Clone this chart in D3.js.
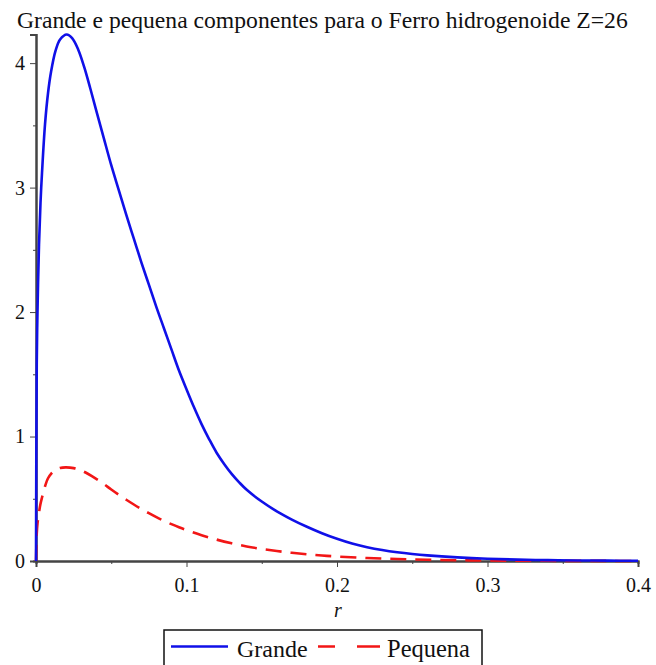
<!DOCTYPE html>
<html>
<head>
<meta charset="utf-8">
<script src="https://cdn.jsdelivr.net/npm/d3@7"></script>
<style>
  html, body { margin: 0; padding: 0; background: #fff; }
  svg { display: block; }
</style>
</head>
<body>
<svg id="chart" width="656" height="665"></svg>
<script>
// Radial coordinate samples and the two Dirac components for Fe (Z=26)
const rGrande = [0, 0.0005, 0.001, 0.002, 0.003, 0.004, 0.006, 0.008, 0.010, 0.013, 0.016, 0.0204,
  0.024, 0.028, 0.032, 0.036, 0.040, 0.045, 0.050, 0.055, 0.060, 0.065, 0.070, 0.075, 0.080,
  0.085, 0.090, 0.095, 0.100, 0.105, 0.110, 0.115, 0.120, 0.125, 0.130, 0.135, 0.140, 0.150,
  0.160, 0.170, 0.180, 0.190, 0.200, 0.210, 0.220, 0.230, 0.240, 0.250, 0.260, 0.280, 0.300,
  0.320, 0.340, 0.360, 0.380, 0.400];
const grande = [0, 1.58, 2.01, 2.54, 2.88, 3.12, 3.51, 3.76, 3.93, 4.10, 4.19, 4.23,
  4.20, 4.11, 3.97, 3.80, 3.62, 3.40, 3.18, 2.98, 2.78, 2.59, 2.40, 2.22, 2.04,
  1.87, 1.70, 1.53, 1.38, 1.235, 1.10, 0.98, 0.87, 0.78, 0.70, 0.632, 0.572, 0.478,
  0.399, 0.333, 0.275, 0.223, 0.178, 0.140, 0.111, 0.088, 0.070, 0.056, 0.045, 0.029, 0.018,
  0.011, 0.007, 0.0045, 0.003, 0.002];

const rPequena = [0, 0.0005, 0.001, 0.002, 0.003, 0.004, 0.006, 0.008, 0.010, 0.013, 0.016, 0.020,
  0.025, 0.030, 0.035, 0.040, 0.045, 0.050, 0.055, 0.060, 0.065, 0.070, 0.075, 0.080,
  0.085, 0.090, 0.095, 0.100, 0.110, 0.120, 0.130, 0.140, 0.150, 0.160, 0.170, 0.180, 0.190,
  0.200, 0.220, 0.240, 0.260, 0.280, 0.300, 0.320, 0.340, 0.360, 0.380, 0.400];
const pequena = [0, 0.22, 0.30, 0.39, 0.46, 0.51, 0.60, 0.665, 0.70, 0.73, 0.748, 0.752,
  0.746, 0.727, 0.697, 0.660, 0.619, 0.574, 0.532, 0.492, 0.454, 0.418, 0.384, 0.352,
  0.323, 0.296, 0.271, 0.248, 0.207, 0.172, 0.142, 0.117, 0.097, 0.080, 0.066, 0.054, 0.044,
  0.036, 0.024, 0.016, 0.010, 0.0065, 0.004, 0.0025, 0.0016, 0.001, 0.0006, 0.0004];

const xMajor = [0, 0.1, 0.2, 0.3, 0.4];
const xMinor = [0.05, 0.15, 0.25, 0.35];
const yMajor = [0, 1, 2, 3, 4];
const yMinor = [0.5, 1.5, 2.5, 3.5];

const titleText = "Grande e pequena componentes para o Ferro hidrogenoide Z=26";
const seriesNames = ["Grande", "Pequena"];

// Pick the first installed Times-like face
function pickSerif() {
  const candidates = ["Liberation Serif", "Tinos", "Times New Roman", "Nimbus Roman",
    "Nimbus Roman No9 L", "FreeSerif", "DejaVu Serif", "Noto Serif", "Noto Serif CJK SC", "Bitstream Vera Serif"];
  const ctx = document.createElement("canvas").getContext("2d");
  const sample = "Grande e pequena 0.123 Wmi";
  const width = f => { ctx.font = "40px " + f; return ctx.measureText(sample).width; };
  const mono = width("monospace"), sans = width("sans-serif");
  for (const c of candidates) {
    const a = width(`"${c}", monospace`), b = width(`"${c}", sans-serif`);
    if (a !== mono || b !== sans) return `"${c}", serif`;
  }
  return "serif";
}
const serif = pickSerif();

const svg = d3.select("#chart");

const x = d3.scaleLinear().domain([0, 0.4]).range([36, 638]);
const y = d3.scaleLinear().domain([0, 4.23]).range([561, 34.5]);

const axisColor = "#444";

// Title, stretched to span the plot width
const title = svg.append("text")
  .attr("x", 17).attr("y", 28)
  .attr("fill", "#111")
  .style("font-family", serif)
  .style("font-size", "22px")
  .text(titleText);
const tw = title.node().getComputedTextLength();
title.style("font-size", (22 * 611 / tw).toFixed(2) + "px");

// X axis: major ticks with labels, minor ticks without
const gx = svg.append("g").attr("transform", `translate(0,${y(0)})`);
gx.call(d3.axisBottom(x).tickValues(xMajor).tickSize(6).tickPadding(11)
  .tickFormat(d => d === 0 ? "0" : d3.format(".1f")(d)));
gx.append("g").call(d3.axisBottom(x).tickValues(xMinor).tickSize(3).tickFormat(""));

// Y axis
const gy = svg.append("g").attr("transform", `translate(${x(0)},0)`);
gy.call(d3.axisLeft(y).tickValues(yMajor).tickSize(6).tickPadding(5).tickFormat(d3.format("d")));
gy.append("g").call(d3.axisLeft(y).tickValues(yMinor).tickSize(3).tickFormat(""));

svg.selectAll("g").attr("font-family", null);
svg.selectAll(".domain").attr("stroke", axisColor).attr("stroke-width", 2);
svg.selectAll(".tick line").attr("stroke", axisColor).attr("stroke-width", 1);
svg.selectAll(".tick text")
  .style("font-family", serif)
  .style("font-size", "20px").attr("fill", "#111");

// Axis title
svg.append("text")
  .attr("x", 338).attr("y", 617)
  .attr("text-anchor", "middle")
  .attr("fill", "#111")
  .style("font-family", serif)
  .style("font-size", "20px").style("font-style", "italic")
  .text("r");

// Curves
const line = d3.line().curve(d3.curveCatmullRom.alpha(0.5))
  .x(d => x(d[0])).y(d => y(d[1]));

svg.append("path")
  .datum(d3.zip(rPequena, pequena))
  .attr("d", line)
  .attr("fill", "none")
  .attr("stroke", "#f21616")
  .attr("stroke-width", 2.6)
  .attr("stroke-dasharray", "16,9");

svg.append("path")
  .datum(d3.zip(rGrande, grande))
  .attr("d", line)
  .attr("fill", "none")
  .attr("stroke", "#1010e8")
  .attr("stroke-width", 2.6);

// Legend
const lg = svg.append("g");
lg.append("rect")
  .attr("x", 164).attr("y", 630).attr("width", 318).attr("height", 50)
  .attr("fill", "none").attr("stroke", "#111").attr("stroke-width", 1.5);
lg.append("line")
  .attr("x1", 171).attr("x2", 228).attr("y1", 646.5).attr("y2", 646.5)
  .attr("stroke", "#1010e8").attr("stroke-width", 2.6);
lg.append("text")
  .attr("x", 237).attr("y", 657)
  .attr("fill", "#111")
  .style("font-family", serif)
  .style("font-size", "24px")
  .text(seriesNames[0]);
lg.append("line")
  .attr("x1", 318).attr("x2", 380).attr("y1", 646.5).attr("y2", 646.5)
  .attr("stroke", "#f21616").attr("stroke-width", 2.6)
  .attr("stroke-dasharray", "17,22,23");
lg.append("text")
  .attr("x", 387).attr("y", 657)
  .attr("fill", "#111")
  .style("font-family", serif)
  .style("font-size", "24.5px")
  .text(seriesNames[1]);
</script>
</body>
</html>
